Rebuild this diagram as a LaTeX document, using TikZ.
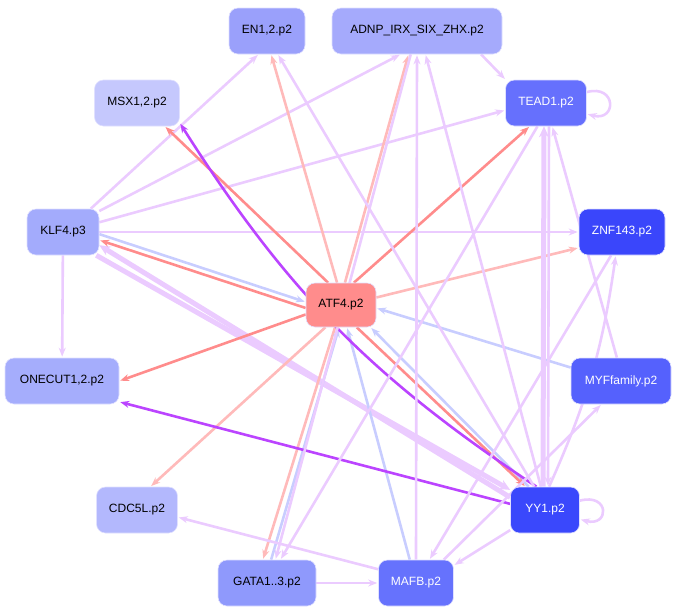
\documentclass[tikz,border=0pt]{standalone}
\usepackage{fontspec}
\setmainfont{Liberation Sans}
\usetikzlibrary{arrows.meta}
\definecolor{lp}{HTML}{EBCBFF}
\definecolor{sal}{HTML}{FF8C8C}
\definecolor{pk}{HTML}{FFBABA}
\definecolor{lb}{HTML}{C8CDFF}
\definecolor{vi}{HTML}{BB44FF}
\pgfdeclarelayer{bg}
\pgfsetlayers{bg,main}
\begin{document}
\begin{tikzpicture}[x=1pt,y=-1pt,
  n/.style={draw=blue!12,line width=0.6pt,rounded corners=9pt,minimum height=46pt,inner sep=0pt,font=\fontsize{12}{14}\selectfont,align=center},
  e/.style={draw=#1,line width=2.6pt,-{Stealth[length=9pt,width=7pt]},shorten >=1pt},
  t/.style={draw=#1,line width=5pt,-{Stealth[length=11pt,width=10pt]}}]
\useasboundingbox (0,0) rectangle (675,614);
\node[n,fill={rgb,255:red,154;green,160;blue,251},minimum width=76pt] (en) at (267,31) {EN1,2.p2};
\node[n,fill={rgb,255:red,165;green,170;blue,252},minimum width=170pt] (adnp) at (417,31) {ADNP\_IRX\_SIX\_ZHX.p2};
\node[n,fill={rgb,255:red,197;green,200;blue,253},minimum width=85pt] (msx) at (137,103) {MSX1,2.p2};
\node[n,fill={rgb,255:red,102;green,112;blue,253},text=white,minimum width=81pt] (tead) at (546,103) {TEAD1.p2};
\node[n,fill={rgb,255:red,163;green,171;blue,252},minimum width=72pt] (klf) at (63,232) {KLF4.p3};
\node[n,fill={rgb,255:red,58;green,70;blue,251},text=white,minimum width=86pt] (znf) at (622,232) {ZNF143.p2};
\node[n,fill={rgb,255:red,255;green,140;blue,140},minimum width=70pt,minimum height=44pt] (atf) at (341,305) {ATF4.p2};
\node[n,fill={rgb,255:red,165;green,173;blue,252},minimum width=114pt] (one) at (62,381) {ONECUT1,2.p2};
\node[n,fill={rgb,255:red,85;green,97;blue,253},text=white,minimum width=100pt] (myf) at (621,381) {MYFfamily.p2};
\node[n,fill={rgb,255:red,179;green,184;blue,253},minimum width=81pt] (cdc) at (137,510) {CDC5L.p2};
\node[n,fill={rgb,255:red,58;green,72;blue,252},text=white,minimum width=69pt] (yy) at (545,510) {YY1.p2};
\node[n,fill={rgb,255:red,143;green,153;blue,252},minimum width=98pt] (gata) at (267,583) {GATA1..3.p2};
\node[n,fill={rgb,255:red,102;green,114;blue,253},text=white,minimum width=75pt] (mafb) at (416,583) {MAFB.p2};
\begin{pgfonlayer}{bg}
% KLF4 edges
\draw[e=lp] (klf.40) -- (en.250);
\draw[e=lp] (klf.30) -- (adnp.235);
\draw[e=lp] (klf.15) -- (tead.190);
\draw[e=lp] (klf) -- (znf);
\draw[e=lp] (klf) -- (one);
\draw[t=lp] (klf.-35) -- (yy.150);
\draw[t=lp] (yy.160) -- (klf.-20);
% ATF4 edges
\draw[e=lb] ([yshift=3pt]klf.-8) -- ([yshift=3pt]atf.west);
\draw[e=sal] ([yshift=-3pt]atf.west) -- ([yshift=-3pt]klf.-8);
\draw[e=sal] (atf.120) -- (msx.-40);
\draw[e=pk] (atf.100) -- (en.-80);
\draw[e=pk] (atf.80) -- (adnp.250);
\draw[e=sal] (atf.60) -- (tead.-125);
\draw[e=pk] (atf.12) -- (znf.200);
\draw[e=sal] (atf.195) -- (one.east);
\draw[e=pk] (atf.235) -- (cdc.60);
\draw[e=pk] (atf.255) -- (gata.100);
\draw[e=lb] (gata.80) -- (atf.-95);
\draw[e=lb] (mafb.105) -- (atf.-75);
\draw[e=lb] (myf.165) -- (atf.-5);
\draw[e=lb] (yy.125) -- ([xshift=3pt]atf.-40);
\draw[e=sal] ([xshift=-3pt]atf.-50) -- (yy.130);
% violet
\draw[e=vi] (yy.110) to[bend left=12] (msx.-25);
\draw[e=vi] (yy.170) -- (one.-20);
% others
\draw[e=lp] (yy.115) -- (en.-65);
\draw[e=lp] (yy.100) -- (adnp.-70);
\draw[e=lp] (adnp.-20) -- (tead.150);
\draw[e=lp] (mafb.90) -- (adnp.-90);
\draw[e=lp] (adnp.-105) -- (gata.70);
\draw[e=lp] (tead.-110) -- (gata.60);
\draw[e=lp] (znf.-115) -- (mafb.60);
\draw[e=lp] (myf.100) -- (tead.-75);
\draw[e=lp] (yy.80) to[bend right=8] (znf.-105);
\draw[e=lp] (gata) -- (mafb);
\draw[e=lp] (mafb.160) -- (cdc.-10);
\draw[e=lp] (yy.-150) -- (mafb.25);
\draw[e=lp] (mafb.40) -- (myf.-130);
\draw[t=lp] ([xshift=-2pt]yy.north) -- ([xshift=-2pt]tead.south);
\draw[e=lp] ([xshift=3pt]tead.south) -- ([xshift=3pt]yy.north);
\draw[e=lp] (tead.15) .. controls +(30,-8) and +(30,8) .. (tead.-15);
\draw[e=lp] (yy.15) .. controls +(30,-8) and +(30,8) .. (yy.-15);
\end{pgfonlayer}
\end{tikzpicture}
\end{document}
